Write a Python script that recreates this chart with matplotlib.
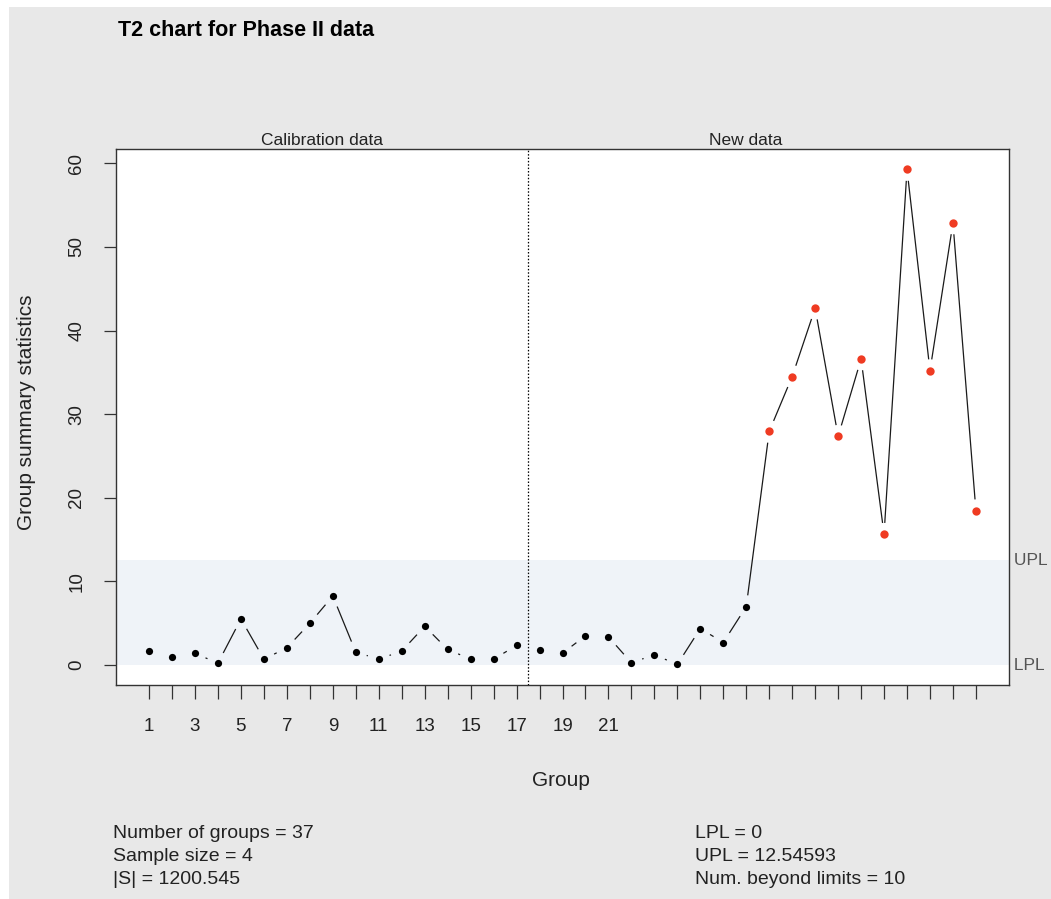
import numpy as np
import matplotlib
matplotlib.use("Agg")
import matplotlib.pyplot as plt
import matplotlib.patches as patches

plt.rcParams['font.family'] = ['Liberation Sans', 'DejaVu Sans']

# T2 statistics, groups 1..37 (first 17 are calibration)
groups = np.arange(1, 38)
t2_stats = [1.67, 0.95, 1.39, 0.24, 5.52, 0.71, 2.07, 5.00, 8.26, 1.55,
            0.71, 1.67, 4.64, 1.87, 0.71, 0.71, 2.35,
            1.75, 1.43, 3.50, 3.38, 0.28, 1.23, 0.08, 4.37, 2.70, 6.99,
            27.94, 34.50, 42.67, 27.35, 36.60, 15.64, 59.25, 35.20, 52.86, 18.45]
n_calib = 17
lpl = 0.0
upl = 12.54593
labelled_ticks = [1, 3, 5, 7, 9, 11, 13, 15, 17, 19, 21]
stats_left = ["Number of groups = 37", "Sample size = 4", "|S| = 1200.545"]
stats_right = ["LPL = 0", "UPL = 12.54593", "Num. beyond limits = 10"]

W, H = 1051, 899
fig = plt.figure(figsize=(W / 100, H / 100), dpi=100, facecolor='white')
# grey device background, inset a little from top/left like the source
fig.patches.append(patches.Rectangle((9 / W, 0), 1, 1 - 7 / H, transform=fig.transFigure,
                                     facecolor='#e8e8e8', edgecolor='none', zorder=-10))

def fx(px):
    return px / W

def fy(py):
    return 1 - py / H

ax = fig.add_axes([fx(116), fy(685), fx(1009) - fx(116), fy(149) - fy(685)])
ax.set_facecolor('white')
ax.set_xlim(-0.44, 38.44)
ax.set_ylim(-2.38, 61.7)

ax.axhspan(lpl, upl, color='#eff3f8', zorder=0, lw=0)
ax.axvline(n_calib + 0.5, color='black', ls=(0, (1.2, 1.5)), lw=0.9, zorder=2)

# R type="b": line segments with a gap around each point
vals = np.array(t2_stats)
pts = ax.transData.transform(np.column_stack([groups, vals]))
gap = 12.0
inv = ax.transData.inverted()
for i in range(len(pts) - 1):
    p0, p1 = pts[i], pts[i + 1]
    d = p1 - p0
    L = np.hypot(*d)
    if L <= 2 * gap:
        continue
    u = d / L
    a = inv.transform(p0 + u * gap)
    b = inv.transform(p1 - u * gap)
    ax.plot([a[0], b[0]], [a[1], b[1]], color='#1a1a1a', lw=0.9, zorder=3)

out = (vals > upl) | (vals < lpl)
ax.plot(groups[~out], vals[~out], 'o', color='black', ms=5.2, mec='none', zorder=4)
ax.plot(groups[out], vals[out], 'o', color='#ef3b22', ms=6.0, mec='none', zorder=4)

for s in ax.spines.values():
    s.set_color('#333333')
    s.set_linewidth(1.0)

ax.set_xticks(groups)
ax.set_xticklabels([str(g) if g in labelled_ticks else '' for g in groups])
ax.set_yticks(np.arange(0, 61, 10))
ax.tick_params(axis='x', length=10, width=0.9, color='#333333', pad=14,
               labelsize=13.5, labelcolor='#222222')
ax.tick_params(axis='y', length=9, width=0.9, color='#333333', pad=13,
               labelsize=13.5, labelcolor='#222222', labelrotation=90)
for lab in ax.get_yticklabels():
    lab.set_va('center')

ax.text(1.0, upl, ' UPL', transform=ax.get_yaxis_transform(), ha='left', va='center',
        fontsize=12.5, color='#555555')
ax.text(1.0, lpl, ' LPL', transform=ax.get_yaxis_transform(), ha='left', va='center',
        fontsize=12.5, color='#555555')

fig.text(fx(118), fy(36), "T2 chart for Phase II data", fontsize=15.5, fontweight='bold',
         ha='left', va='baseline', color='black')
fig.text(fx(322), fy(145), "Calibration data", fontsize=12.5, ha='center', va='baseline',
         color='#222222')
fig.text(fx(746), fy(145), "New data", fontsize=12.5, ha='center', va='baseline',
         color='#222222')
fig.text(fx(561), fy(786), "Group", fontsize=15, ha='center', va='baseline', color='#222222')
fig.text(fx(27), fy(412), "Group summary statistics", fontsize=15, rotation=90,
         ha='center', va='center', color='#222222')

for i, (l, r) in enumerate(zip(stats_left, stats_right)):
    y = 833 + i * 23.5
    fig.text(fx(113), fy(y), l, fontsize=14, ha='left', va='center', color='#222222')
    fig.text(fx(695), fy(y), r, fontsize=14, ha='left', va='center', color='#222222')

fig.savefig('out.png', dpi=100, facecolor=fig.get_facecolor())
